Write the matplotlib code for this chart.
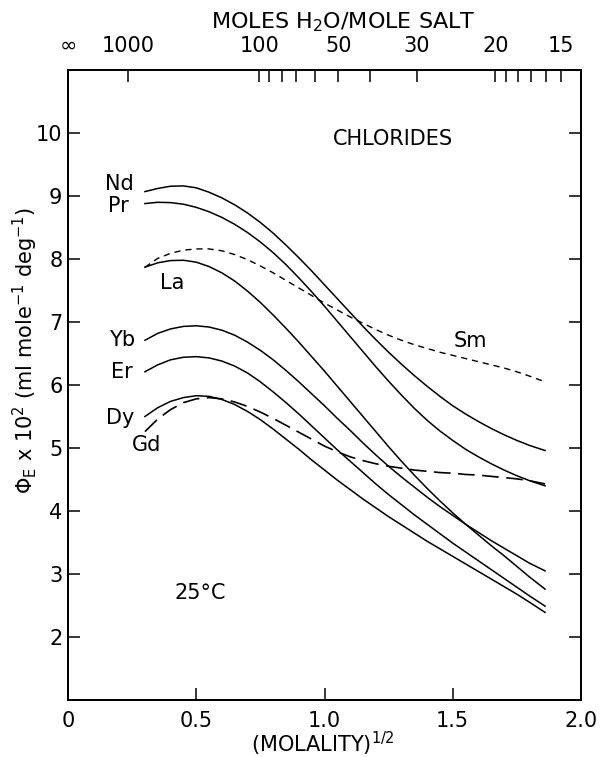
import matplotlib
matplotlib.use("Agg")
import matplotlib.pyplot as plt
import numpy as np

plt.rcParams['font.family'] = ['DejaVu Sans']
plt.rcParams['mathtext.fontset'] = 'dejavusans'

# ---- data ----
x_common = [0.30, 0.35, 0.40, 0.45, 0.50, 0.55, 0.60, 0.65, 0.70, 0.75,
            0.80, 0.85, 0.90, 0.95, 1.00, 1.05, 1.10, 1.15, 1.20, 1.25,
            1.30, 1.35, 1.40, 1.45, 1.50, 1.55, 1.60, 1.65, 1.70, 1.75,
            1.80, 1.86]
nd = [9.07, 9.12, 9.155, 9.16, 9.13, 9.06, 8.97, 8.86, 8.73, 8.58,
      8.41, 8.22, 8.02, 7.81, 7.59, 7.37, 7.15, 6.93, 6.72, 6.52,
      6.33, 6.15, 5.98, 5.82, 5.67, 5.54, 5.42, 5.31, 5.21, 5.12,
      5.04, 4.96]
pr = [8.88, 8.90, 8.895, 8.87, 8.82, 8.75, 8.66, 8.55, 8.42, 8.27,
      8.10, 7.91, 7.70, 7.48, 7.25, 7.01, 6.77, 6.53, 6.29, 6.06,
      5.84, 5.63, 5.44, 5.27, 5.12, 4.98, 4.86, 4.75, 4.65, 4.56,
      4.48, 4.40]
la = [7.87, 7.94, 7.975, 7.98, 7.95, 7.88, 7.78, 7.65, 7.49, 7.31,
      7.11, 6.90, 6.68, 6.45, 6.22, 5.98, 5.74, 5.50, 5.26, 5.02,
      4.79, 4.57, 4.36, 4.16, 3.97, 3.79, 3.62, 3.45, 3.29, 3.12,
      2.95, 2.76]
yb = [6.71, 6.82, 6.89, 6.93, 6.94, 6.92, 6.87, 6.79, 6.68, 6.55,
      6.40, 6.23, 6.05, 5.86, 5.67, 5.47, 5.28, 5.08, 4.89, 4.71,
      4.54, 4.38, 4.22, 4.07, 3.93, 3.79, 3.66, 3.53, 3.41, 3.29,
      3.17, 3.05]
er = [6.21, 6.32, 6.40, 6.44, 6.45, 6.43, 6.38, 6.30, 6.19, 6.05,
      5.89, 5.72, 5.54, 5.35, 5.16, 4.97, 4.79, 4.61, 4.43, 4.26,
      4.10, 3.94, 3.79, 3.64, 3.49, 3.35, 3.21, 3.07, 2.93, 2.79,
      2.65, 2.49]
dy = [5.50, 5.64, 5.74, 5.80, 5.83, 5.82, 5.77, 5.69, 5.58, 5.45,
      5.30, 5.14, 4.98, 4.81, 4.65, 4.49, 4.34, 4.19, 4.05, 3.91,
      3.78, 3.65, 3.52, 3.40, 3.28, 3.16, 3.04, 2.92, 2.80, 2.68,
      2.55, 2.39]
gd = [5.26, 5.46, 5.61, 5.72, 5.78, 5.80, 5.78, 5.73, 5.66, 5.57,
      5.47, 5.36, 5.25, 5.14, 5.03, 4.94, 4.86, 4.80, 4.75, 4.71,
      4.68, 4.65, 4.63, 4.61, 4.60, 4.58, 4.57, 4.55, 4.53, 4.51,
      4.48, 4.43]
sm = [7.87, 8.01, 8.09, 8.14, 8.16, 8.16, 8.13, 8.07, 7.99, 7.89,
      7.78, 7.66, 7.54, 7.42, 7.30, 7.19, 7.08, 6.98, 6.88, 6.79,
      6.71, 6.64, 6.58, 6.52, 6.47, 6.42, 6.37, 6.32, 6.27, 6.21,
      6.14, 6.05]

x_ticks = [0, 0.5, 1.0, 1.5, 2.0]
x_ticklabels = ['0', '0.5', '1.0', '1.5', '2.0']
y_ticks = [2, 3, 4, 5, 6, 7, 8, 9, 10]
top_major_n = [1000, 100, 50, 30, 20, 15]
top_major_labels = ['1000', '100', '50', '30', '20', '15']
top_minor_n = [90, 80, 70, 60, 40, 19, 18, 17, 16]
WATER_MOLES_PER_KG = 55.51

solid_series = [(nd, 'Nd'), (pr, 'Pr'), (la, 'La'), (yb, 'Yb'), (er, 'Er'), (dy, 'Dy')]
labels_pos = {'Nd': (0.20, 9.19), 'Pr': (0.195, 8.84), 'La': (0.405, 7.62),
              'Yb': (0.21, 6.71), 'Er': (0.21, 6.21), 'Dy': (0.205, 5.47),
              'Gd': (0.305, 5.05), 'Sm': (1.57, 6.70)}

fig = plt.figure(figsize=(6.01, 7.57), dpi=100)
ax = fig.add_axes([68/601, 57/757, 513/601, 630/757])
ax.set_xlim(0, 2.0)
ax.set_ylim(1, 11)

lw = 1.1
for ys, name in solid_series:
    ax.plot(x_common, ys, color='black', lw=lw, solid_joinstyle='round')
ax.plot(x_common, sm, color='black', lw=1.0, dashes=(4.5, 3.5))
ax.plot(x_common, gd, color='black', lw=1.2, dashes=(10, 4.5))

fs = 15
for name, (lx, ly) in labels_pos.items():
    ax.text(lx, ly, name, fontsize=fs, ha='center', va='center')
ax.text(1.265, 9.9, 'CHLORIDES', fontsize=fs, ha='center', va='center')
ax.text(0.515, 2.70, '25°C', fontsize=fs, ha='center', va='center')

for s in ax.spines.values():
    s.set_linewidth(1.4)

ax.set_xticks(x_ticks)
ax.set_xticklabels(x_ticklabels)
ax.set_yticks(y_ticks)
ax.set_yticklabels([str(v) for v in y_ticks])
ax.tick_params(direction='in', length=8.6, width=1.1, labelsize=fs,
               right=True, top=False)
ax.tick_params(axis='x', pad=8)
ax.tick_params(axis='y', pad=4)

# top axis: moles water per mole salt
axt = ax.twiny()
axt.set_xlim(ax.get_xlim())
maj_pos = [0.0] + [np.sqrt(WATER_MOLES_PER_KG / n) for n in top_major_n]
axt.set_xticks(maj_pos)
axt.set_xticklabels(['\u221e'] + top_major_labels)
axt.set_xticks([np.sqrt(WATER_MOLES_PER_KG / n) for n in top_minor_n], minor=True)
axt.tick_params(axis='x', which='both', direction='in', length=8.6, width=1.1,
                labelsize=fs, pad=10)
for s in axt.spines.values():
    s.set_linewidth(1.4)

fig.text(343/601, 1 - 22/757, r'MOLES H$_2$O/MOLE SALT', fontsize=16,
         ha='center', va='center')
fig.text(323/601, 1 - 744/757, r'(MOLALITY)$^{1/2}$', fontsize=fs,
         ha='center', va='center')
fig.text(25/601, 1 - 350/757,
         r'$\Phi_{\mathrm{E}}$ x 10$^2$ (ml mole$^{-1}$ deg$^{-1}$)',
         fontsize=fs, rotation=90, ha='center', va='center')

fig.savefig('out.png', dpi=100)
